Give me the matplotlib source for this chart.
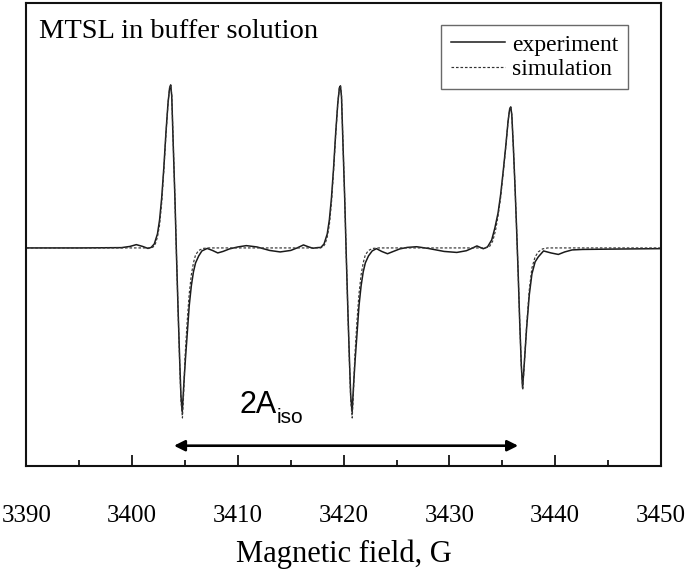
import matplotlib
matplotlib.use("Agg")
import matplotlib.pyplot as plt

plt.rcParams['font.family'] = ['Liberation Serif', 'DejaVu Serif']

# ---- data (field in G, intensity in arbitrary units, baseline = 0) ----
exp_field = [
    3390.0, 3395.0, 3399.0, 3399.8, 3400.4, 3401.0, 3401.5, 3401.8, 3402.1, 3402.4,
    3402.6, 3402.8, 3403.0, 3403.2, 3403.4, 3403.55, 3403.65, 3403.75, 3403.9, 3404.05,
    3404.2, 3404.35, 3404.5, 3404.62, 3404.74, 3404.9, 3405.05, 3405.2, 3405.4, 3405.6,
    3405.8, 3406.0, 3406.3, 3406.6, 3407.1, 3407.6, 3408.1, 3408.6, 3409.2, 3410.0,
    3410.8, 3411.8, 3413.0, 3414.0, 3415.0, 3415.6, 3416.2, 3416.7, 3417.1, 3417.5,
    3417.85, 3418.15, 3418.45, 3418.65, 3418.85, 3419.05, 3419.25, 3419.45, 3419.6, 3419.7,
    3419.8, 3419.95, 3420.1, 3420.25, 3420.4, 3420.55, 3420.67, 3420.8, 3420.95, 3421.1,
    3421.25, 3421.45, 3421.65, 3421.85, 3422.05, 3422.35, 3422.7, 3423.1, 3423.6, 3424.15,
    3424.7, 3425.3, 3426.0, 3426.9, 3428.0, 3429.5, 3430.7, 3431.6, 3432.1, 3432.6,
    3433.2, 3433.6, 3434.0, 3434.3, 3434.6, 3434.84, 3435.1, 3435.34, 3435.55, 3435.7,
    3435.8, 3435.9, 3436.05, 3436.2, 3436.35, 3436.5, 3436.65, 3436.8, 3436.92, 3437.05,
    3437.3, 3437.55, 3437.8, 3438.1, 3438.4, 3438.9, 3439.6, 3440.3, 3440.9, 3441.6,
    3442.6, 3445.0, 3450.0,
]
exp_signal = [
    0.0, 0.0, 0.3, 1.5, 3.3, 1.5, -0.5, 0.5, 4.0, 14.0,
    28.0, 50.0, 80.0, 115.0, 145.0, 160.0, 163.0, 152.0, 100.0, 50.0,
    -8.0, -62.0, -112.0, -148.0, -164.0, -135.0, -110.0, -88.0, -58.0, -38.0,
    -24.0, -15.0, -8.0, -3.0, -0.5, -2.5, -5.0, -3.5, -1.0, 1.0,
    2.3, 1.0, -2.5, -4.0, -2.5, 0.0, 3.0, 1.0, -0.3, 0.3,
    0.5, 4.0, 14.0, 28.0, 50.0, 80.0, 115.0, 145.0, 160.0, 162.0,
    151.0, 100.0, 50.0, -8.0, -62.0, -112.0, -148.0, -164.0, -135.0, -110.0,
    -88.0, -58.0, -38.0, -24.0, -15.0, -8.0, -3.0, -0.7, -3.5, -5.8,
    -3.5, -1.0, 0.5, 1.2, -0.5, -3.5, -4.5, -2.8, -0.5, 2.0,
    -0.8, 1.0, 8.0, 20.0, 35.0, 53.0, 78.0, 103.0, 127.0, 139.0,
    141.0, 133.0, 100.0, 62.0, 20.0, -25.0, -75.0, -118.0, -140.0, -120.0,
    -80.0, -47.0, -26.0, -14.0, -9.0, -3.0, -5.0, -6.5, -4.0, -2.0,
    -1.5, -1.2, -0.7,
]

sim_field = [
    3390.0, 3401.8, 3402.0, 3402.2, 3402.4, 3402.6, 3402.8, 3403.0, 3403.2, 3403.4,
    3403.55, 3403.65, 3403.75, 3403.9, 3404.05, 3404.2, 3404.35, 3404.5, 3404.62, 3404.76,
    3404.86, 3405.0, 3405.2, 3405.4, 3405.6, 3405.8, 3406.0, 3406.3, 3406.7, 3407.2,
    3417.8, 3418.05, 3418.25, 3418.45, 3418.65, 3418.85, 3419.05, 3419.25, 3419.45, 3419.6,
    3419.7, 3419.8, 3419.95, 3420.1, 3420.25, 3420.4, 3420.55, 3420.67, 3420.81, 3420.91,
    3421.05, 3421.25, 3421.45, 3421.65, 3421.85, 3422.05, 3422.35, 3422.75, 3423.25, 3433.4,
    3433.8, 3434.1, 3434.35, 3434.6, 3434.84, 3435.1, 3435.34, 3435.55, 3435.7, 3435.8,
    3435.9, 3436.05, 3436.2, 3436.35, 3436.5, 3436.65, 3436.8, 3436.93, 3437.05, 3437.3,
    3437.55, 3437.8, 3438.1, 3438.4, 3438.8, 3439.3, 3450.0,
]
sim_signal = [
    0.0, 0.0, 1.0, 4.0, 11.0, 23.0, 45.0, 77.0, 113.0, 145.0,
    160.0, 163.0, 153.0, 102.0, 50.0, -8.0, -63.0, -115.0, -152.0, -170.0,
    -150.0, -110.0, -75.0, -46.0, -27.0, -15.0, -7.0, -2.5, -0.5, 0.0,
    0.0, 1.0, 4.0, 11.0, 23.0, 45.0, 77.0, 113.0, 145.0, 160.0,
    162.0, 152.0, 102.0, 50.0, -8.0, -63.0, -115.0, -152.0, -170.0, -150.0,
    -110.0, -75.0, -46.0, -27.0, -15.0, -7.0, -2.5, -0.5, 0.0, 0.0,
    1.5, 7.0, 17.0, 32.0, 50.0, 76.0, 102.0, 127.0, 139.0, 141.0,
    133.0, 100.0, 62.0, 20.0, -25.0, -75.0, -118.0, -142.0, -122.0, -78.0,
    -42.0, -20.0, -9.0, -4.0, -1.0, 0.0, 0.0,
]

xticks = [3390, 3400, 3410, 3420, 3430, 3440, 3450]
title_text = "MTSL in buffer solution"
series_labels = ["experiment", "simulation"]
arrow_span = [3403.96, 3436.5]

# ---- figure ----
fig = plt.figure(figsize=(6.85, 5.69), dpi=100)
ax = fig.add_axes([0.0384, 0.181, 0.9265, 0.814])

ax.plot(exp_field, exp_signal, color='#1a1a1a', lw=1.1, label=series_labels[0])
ax.plot(sim_field, sim_signal, color='#333333', lw=0.85, ls=(0, (2.2, 1.6)), label=series_labels[1])

ax.set_xlim(3390, 3450)
ax.set_ylim(-218, 245)
ax.set_xticks(xticks)
ax.set_xticks(range(3395, 3450, 10), minor=True)
ax.set_yticks([])
ax.tick_params(axis='x', which='major', direction='in', length=8, width=1.2, pad=28, labelsize=18)
ax.tick_params(axis='x', which='minor', direction='in', length=4.5, width=1.2)
for s in ax.spines.values():
    s.set_linewidth(1.5)
    s.set_color('#111111')

ax.set_xlabel("Magnetic field, G", fontsize=22, labelpad=9)

ax.text(0.02, 0.965, title_text, transform=ax.transAxes, fontsize=20.5,
        va='top', ha='left')

leg = ax.legend(loc='upper right', bbox_to_anchor=(0.948, 0.953), fontsize=17,
                frameon=True, fancybox=False, handlelength=2.3, handletextpad=0.3,
                labelspacing=0.12, borderpad=0.4, borderaxespad=0.0)
leg.get_frame().set_edgecolor('#444444')
leg.get_frame().set_linewidth(1.0)

ax.annotate('', xy=(arrow_span[1], -197.7), xytext=(arrow_span[0], -197.7),
            arrowprops=dict(arrowstyle='<|-|>', lw=1.9, color='black',
                            mutation_scale=16, shrinkA=0, shrinkB=0))
ax.text(3410.2, -165, "2A", family='Liberation Sans', fontsize=22, ha='left', va='baseline')
ax.text(3413.7, -175, "iso", family='Liberation Sans', fontsize=15, ha='left', va='baseline')

fig.savefig("out.png", dpi=100)
